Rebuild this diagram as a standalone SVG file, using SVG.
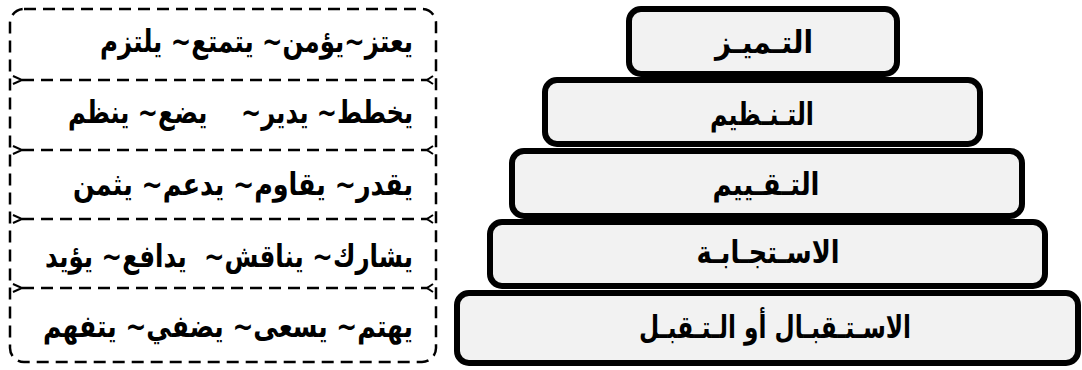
<svg xmlns="http://www.w3.org/2000/svg" width="1082" height="370" viewBox="0 0 1082 370">
  <style>
    .lvl { fill: #f2f2f2; stroke: #000; stroke-width: 6; }
    .t { font-family: "DejaVu Sans", "Noto Sans", sans-serif; font-weight: bold; font-size: 31px; fill: #000; }
    .pt { text-anchor: middle; }
    .lt { direction: rtl; text-anchor: start; white-space: pre; }
    .dash { fill: none; stroke: #000; stroke-width: 2.5; stroke-dasharray: 12 7; }
    .chev { fill: none; stroke: #000; stroke-width: 2; }
  </style>
  <rect width="1082" height="370" fill="#fff"/>

  <!-- Left dashed panel -->
  <g id="panel">
    <rect class="dash" x="10" y="9" width="426" height="353" rx="14" ry="14"/>
  </g>

  <g id="connectors">
    <line class="dash" x1="22" y1="80" x2="428" y2="80"/>
    <line class="dash" x1="22" y1="150" x2="428" y2="150"/>
    <line class="dash" x1="22" y1="219" x2="428" y2="219"/>
    <line class="dash" x1="22" y1="288" x2="428" y2="288"/>
    <path class="chev" d="M13,76 L22,80 L13,84 M13,146 L22,150 L13,154 M13,215 L22,219 L13,223 M13,284 L22,288 L13,292"/>
    <path class="chev" d="M433,76 L427,80 L433,84 M433,146 L427,150 L433,154 M433,215 L427,219 L433,223 M433,284 L427,288 L433,292"/>
  </g>

  <g id="row1"><text class="t lt" x="413" y="52" textLength="313" lengthAdjust="spacingAndGlyphs">يعتز~يؤمن~ يتمتع~ يلتزم</text></g>
  <g id="row2"><text class="t lt" x="413" y="123" textLength="345" lengthAdjust="spacingAndGlyphs">يخطط~ يدير~    يضع~ ينظم</text></g>
  <g id="row3"><text class="t lt" x="413" y="195" textLength="340" lengthAdjust="spacingAndGlyphs">يقدر~ يقاوم~ يدعم~ يثمن</text></g>
  <g id="row4"><text class="t lt" x="413" y="267" textLength="368" lengthAdjust="spacingAndGlyphs">يشارك~ يناقش~  يدافع~ يؤيد</text></g>
  <g id="row5"><text class="t lt" x="413" y="337" textLength="370" lengthAdjust="spacingAndGlyphs">يهتم~ يسعى~ يضفي~ يتفهم</text></g>

  <!-- Pyramid -->
  <g id="level5">
    <rect class="lvl" x="457" y="293" width="621" height="70" rx="12" ry="12"/>
    <text class="t pt" x="775" y="338" textLength="272" lengthAdjust="spacingAndGlyphs">الاسـتـقبـال أو الـتـقبـل</text>
  </g>
  <g id="level4">
    <rect class="lvl" x="490" y="222" width="555" height="64" rx="12" ry="12"/>
    <text class="t pt" x="768" y="263" textLength="143" lengthAdjust="spacingAndGlyphs">الاسـتجـابـة</text>
  </g>
  <g id="level3">
    <rect class="lvl" x="512" y="151" width="510" height="65" rx="12" ry="12"/>
    <text class="t pt" x="766" y="195" textLength="107" lengthAdjust="spacingAndGlyphs">التـقـييم</text>
  </g>
  <g id="level2">
    <rect class="lvl" x="545" y="80" width="435" height="64" rx="12" ry="12"/>
    <text class="t pt" x="762" y="125" textLength="104" lengthAdjust="spacingAndGlyphs">التـنـظيم</text>
  </g>
  <g id="level1">
    <rect class="lvl" x="629" y="9" width="268" height="65" rx="12" ry="12"/>
    <text class="t pt" x="764" y="53" textLength="98" lengthAdjust="spacingAndGlyphs">التـميـز</text>
  </g>
</svg>
